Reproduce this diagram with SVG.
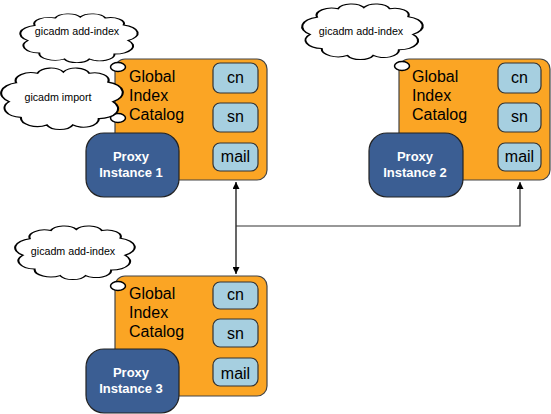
<svg xmlns="http://www.w3.org/2000/svg" width="551" height="414" viewBox="0 0 551 414">
<defs>
<style>
.gic{fill:#FBA524;stroke:#444;stroke-width:1.2}
.attr{fill:#A6CFE0;stroke:#333;stroke-width:1.2}
.proxy{fill:#3B5E93;stroke:#222;stroke-width:1.2}
.bub{fill:#fff;stroke:#000;stroke-width:1.5}
.cloud{fill:#fff;stroke:#000;stroke-width:1.8;vector-effect:non-scaling-stroke}
.t16{font-family:"Liberation Sans",Arial,sans-serif;font-size:16px;fill:#000}
.tc{font-family:"Liberation Sans",Arial,sans-serif;font-size:16px;fill:#000;text-anchor:middle}
.tp{font-family:"Liberation Sans",Arial,sans-serif;font-size:13px;font-weight:bold;fill:#fff;text-anchor:middle}
.tcl{font-family:"Liberation Sans",Arial,sans-serif;font-size:10.7px;fill:#000;text-anchor:middle}
.conn{fill:none;stroke:#000;stroke-width:1.2}
</style>
<path id="cloudShape" d="M 6,55 A 17,17 0 0 1 12,25 A 13,13 0 0 1 30,10 A 12,12 0 0 1 52,8 A 12,12 0 0 1 74,10 A 12,12 0 0 1 90,24 A 17,17 0 0 1 94,55 A 16,16 0 0 1 82,82 A 13,13 0 0 1 60,92 A 12,12 0 0 1 38,92 A 14,14 0 0 1 16,80 A 15,15 0 0 1 6,55 Z"/>
<marker id="arr" viewBox="0 0 10 10" refX="10" refY="5" markerWidth="7" markerHeight="7" markerUnits="userSpaceOnUse" orient="auto">
<path d="M0,0 L10,5 L0,10 Z" fill="#000"/>
</marker>
</defs>

<g id="connectors">
<path class="conn" d="M236,226 L236,182" marker-end="url(#arr)"/>
<path class="conn" d="M236,226 L236,274" marker-end="url(#arr)"/>
<path class="conn" d="M236,226 L520,226 L520,182" marker-end="url(#arr)" style="stroke:#333"/>
</g>

<g id="node1">
<rect class="gic" x="115" y="59" width="152" height="121" rx="10"/>
<text class="t16" x="129" y="82">Global</text>
<text class="t16" x="129" y="101">Index</text>
<text class="t16" x="129" y="120">Catalog</text>
<rect class="attr" x="213" y="63" width="45" height="30" rx="7"/>
<text class="tc" x="235.5" y="83">cn</text>
<rect class="attr" x="213" y="103" width="45" height="29" rx="7"/>
<text class="tc" x="235.5" y="122">sn</text>
<rect class="attr" x="213" y="143" width="45" height="28" rx="7"/>
<text class="tc" x="235.5" y="162">mail</text>
<rect class="proxy" x="86" y="133" width="93" height="64" rx="18"/>
<text class="tp" x="131" y="161">Proxy</text>
<text class="tp" x="131" y="177">Instance 1</text>
<ellipse class="bub" cx="118" cy="67" rx="7.5" ry="4.5"/>
<ellipse class="bub" cx="118" cy="118" rx="7.5" ry="4.5"/>
</g>

<g id="cloud1">
<use href="#cloudShape" class="cloud" transform="translate(21,13) scale(1.14,0.5)"/>
<text class="tcl" x="77" y="35">gicadm add-index</text>
</g>

<g id="cloud2">
<use href="#cloudShape" class="cloud" transform="translate(2,67) scale(1.18,0.63)"/>
<text class="tcl" x="58" y="101">gicadm import</text>
</g>

<g id="node2">
<rect class="gic" x="399" y="59" width="151" height="121" rx="10"/>
<text class="t16" x="412" y="82">Global</text>
<text class="t16" x="412" y="101">Index</text>
<text class="t16" x="412" y="120">Catalog</text>
<rect class="attr" x="498" y="63" width="43" height="30" rx="7"/>
<text class="tc" x="519.5" y="83">cn</text>
<rect class="attr" x="498" y="103" width="43" height="29" rx="7"/>
<text class="tc" x="519.5" y="122">sn</text>
<rect class="attr" x="498" y="143" width="43" height="28" rx="7"/>
<text class="tc" x="519.5" y="162">mail</text>
<rect class="proxy" x="369" y="133" width="94" height="64" rx="18"/>
<text class="tp" x="415" y="161">Proxy</text>
<text class="tp" x="415" y="177">Instance 2</text>
<ellipse class="bub" cx="402" cy="66" rx="7.5" ry="4.5"/>
</g>

<g id="cloud3">
<use href="#cloudShape" class="cloud" transform="translate(303,3) scale(1.17,0.57)"/>
<text class="tcl" x="361" y="35">gicadm add-index</text>
</g>

<g id="node3">
<rect class="gic" x="115" y="276" width="152" height="120" rx="10"/>
<text class="t16" x="129" y="299">Global</text>
<text class="t16" x="129" y="318">Index</text>
<text class="t16" x="129" y="337">Catalog</text>
<rect class="attr" x="213" y="282" width="45" height="27" rx="7"/>
<text class="tc" x="235.5" y="300">cn</text>
<rect class="attr" x="213" y="319" width="45" height="28" rx="7"/>
<text class="tc" x="235.5" y="339">sn</text>
<rect class="attr" x="213" y="358" width="45" height="28" rx="7"/>
<text class="tc" x="235.5" y="379">mail</text>
<rect class="proxy" x="86" y="349" width="93" height="64" rx="18"/>
<text class="tp" x="131" y="377">Proxy</text>
<text class="tp" x="131" y="393">Instance 3</text>
<ellipse class="bub" cx="118" cy="286" rx="7.5" ry="4.5"/>
</g>

<g id="cloud4">
<use href="#cloudShape" class="cloud" transform="translate(16,225) scale(1.16,0.55)"/>
<text class="tcl" x="73" y="255">gicadm add-index</text>
</g>
</svg>
